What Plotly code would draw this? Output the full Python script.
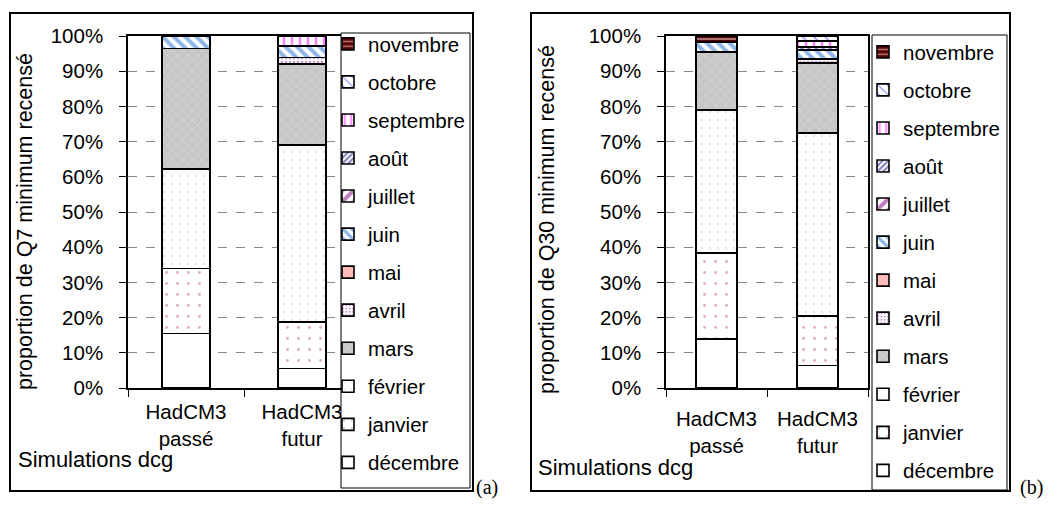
import plotly.graph_objects as go

# ---------------- data ----------------
months = ["décembre", "janvier", "février", "mars", "avril", "mai", "juin",
          "juillet", "août", "septembre", "octobre", "novembre"]
categories = ["HadCM3<br>passé", "HadCM3<br>futur"]

# percentages per month (stack order bottom -> top); None = absent
q7_passe = [15.5, 18.4, 28.3, 34.3, None, None, 3.5, None, None, None, None, None]
q7_futur = [5.5, 13.3, 50.3, 23.0, 1.8, None, 3.2, None, None, 2.9, None, None]
q30_passe = [14.0, 24.4, 40.5, 16.6, None, None, 2.8, None, None, None, None, 1.7]
q30_futur = [6.4, 14.0, 52.0, 20.0, 1.0, None, 2.6, None, 0.8, 1.7, 1.5, None]

y_tickvals = [0, 10, 20, 30, 40, 50, 60, 70, 80, 90, 100]
y_ticktext = [f"{v}%" for v in y_tickvals]

# ---------------- styles ----------------
styles = {
    "décembre": dict(color="white", shape="", fg="white", size=8, sol=0.3),
    "janvier": dict(color="white", shape=".", fg="#c0508a", size=11, sol=0.05),
    "février": dict(color="white", shape=".", fg="#c4c4c4", size=8, sol=0.07),
    "mars": dict(color="#c6c6c6", shape="x", fg="#e2e2e2", size=7, sol=0.25),
    "avril": dict(color="white", shape=".", fg="#993399", size=4, sol=0.35),
    "mai": dict(color="#ffcccc", shape="x", fg="#ff8080", size=4, sol=0.5),
    "juin": dict(color="white", shape="\\", fg="#1a6fcf", size=8, sol=0.5),
    "juillet": dict(color="white", shape="/", fg="#800080", size=10, sol=0.5),
    "août": dict(color="white", shape="/", fg="#000080", size=5, sol=0.5),
    "septembre": dict(color="white", shape="|", fg="#ff00ff", size=8, sol=0.3),
    "octobre": dict(color="white", shape="\\", fg="#0000ff", size=8, sol=0.15),
    "novembre": dict(color="#600000", shape="-", fg="white", size=6, sol=0.3),
}

FONT = "Liberation Sans, Arial, sans-serif"
FS = 20.5
W, H = 1063, 510


def px(x):
    return x / W


def py(y):
    return 1 - y / H


fig = go.Figure()

panels = [
    ("x", "y", "legend", "a", q7_passe, q7_futur),
    ("x2", "y2", "legend2", "b", q30_passe, q30_futur),
]
n = len(months)
for xa, ya, lg, tag, passe, futur in panels:
    for i, m in enumerate(months):
        s = styles[m]
        fig.add_trace(go.Bar(
            x=categories, y=[passe[i], futur[i]], name=m,
            xaxis=xa, yaxis=ya, legend=lg, legendgroup=f"{tag}{i}",
            legendrank=n - i,
            width=0.41,
            marker=dict(color=s["color"],
                        line=dict(color="black", width=1.6),
                        pattern=dict(shape=s["shape"], fgcolor=s["fg"],
                                     bgcolor=s["color"], size=s["size"],
                                     solidity=s["sol"])),
            hoverinfo="skip",
        ))

axis_common_y = dict(range=[0, 100], tickvals=y_tickvals, ticktext=y_ticktext,
                     ticks="outside", ticklen=7, tickcolor="black",
                     ticklabelstandoff=12, automargin=False,
                     showline=True, linecolor="black", linewidth=1.5, mirror=True,
                     showgrid=True, gridcolor="#888888", griddash="dash", gridwidth=1,
                     zeroline=False, tickfont=dict(family=FONT, size=FS, color="black"),
                     fixedrange=True)
axis_common_x = dict(type="category", ticks="outside", ticklen=7, tickcolor="black",
                     tickson="boundaries", automargin=False,
                     showline=True, linecolor="black", linewidth=1.5, mirror=True,
                     showgrid=False, tickfont=dict(family=FONT, size=FS, color="black"),
                     fixedrange=True)

ydom = [py(388), py(36)]
fig.update_layout(
    width=W, height=H, margin=dict(l=0, r=0, t=0, b=0, autoexpand=False),
    paper_bgcolor="white", plot_bgcolor="white",
    barmode="stack", showlegend=True,
    xaxis=dict(domain=[px(128), px(360)], anchor="y", ticklabelstandoff=5, **axis_common_x),
    yaxis=dict(domain=ydom, anchor="x", **axis_common_y),
    xaxis2=dict(domain=[px(666), px(868)], anchor="y2", ticklabelstandoff=12, **axis_common_x),
    yaxis2=dict(domain=ydom, anchor="x2", **axis_common_y),
    legend=dict(x=px(328), y=py(24), xanchor="left", yanchor="top",
                bgcolor="rgba(0,0,0,0)", borderwidth=0,
                font=dict(family=FONT, size=FS, color="black"),
                traceorder="grouped", tracegroupgap=8.4),
    legend2=dict(x=px(863), y=py(32), xanchor="left", yanchor="top",
                 bgcolor="rgba(0,0,0,0)", borderwidth=0,
                 font=dict(family=FONT, size=FS, color="black"),
                 traceorder="grouped", tracegroupgap=8.4),
)

shapes = [
    # outer frames
    dict(type="rect", xref="paper", yref="paper", x0=px(10), x1=px(473), y0=py(491), y1=py(13),
         line=dict(color="black", width=2), layer="below"),
    dict(type="rect", xref="paper", yref="paper", x0=px(531), x1=px(1010), y0=py(491), y1=py(13),
         line=dict(color="black", width=2), layer="below"),
    # legend boxes
    dict(type="rect", xref="paper", yref="paper", x0=px(341), x1=px(470), y0=py(488), y1=py(33),
         line=dict(color="black", width=1), fillcolor="white", layer="above"),
    dict(type="rect", xref="paper", yref="paper", x0=px(872), x1=px(1007), y0=py(490), y1=py(35),
         line=dict(color="black", width=1), fillcolor="white", layer="above"),
]
fig.update_layout(shapes=shapes)

annotations = [
    dict(text="proportion de Q7 minimum recensé", x=px(25), y=py(222), textangle=-90,
         xanchor="center", size=21.5),
    dict(text="proportion de Q30 minimum recensé", x=px(547), y=py(220), textangle=-90,
         xanchor="center", size=21.5),
    dict(text="Simulations dcg", x=px(16), y=py(459), xanchor="left", size=22),
    dict(text="Simulations dcg", x=px(536), y=py(467), xanchor="left", size=22),
]
for a in annotations:
    fsz = a.pop("size")
    a.update(xref="paper", yref="paper", showarrow=False, yanchor="middle",
             font=dict(family=FONT, size=fsz, color="black"))
annotations += [
    dict(text="(a)", x=px(487), y=py(487), xref="paper", yref="paper", showarrow=False,
         xanchor="center", yanchor="middle",
         font=dict(family="Liberation Serif, serif", size=20, color="black")),
    dict(text="(b)", x=px(1031), y=py(487), xref="paper", yref="paper", showarrow=False,
         xanchor="center", yanchor="middle",
         font=dict(family="Liberation Serif, serif", size=20, color="black")),
]
fig.update_layout(annotations=annotations)

fig.write_html("out.html", config={"displayModeBar": False},
               post_script="document.body.style.margin='0px';")
